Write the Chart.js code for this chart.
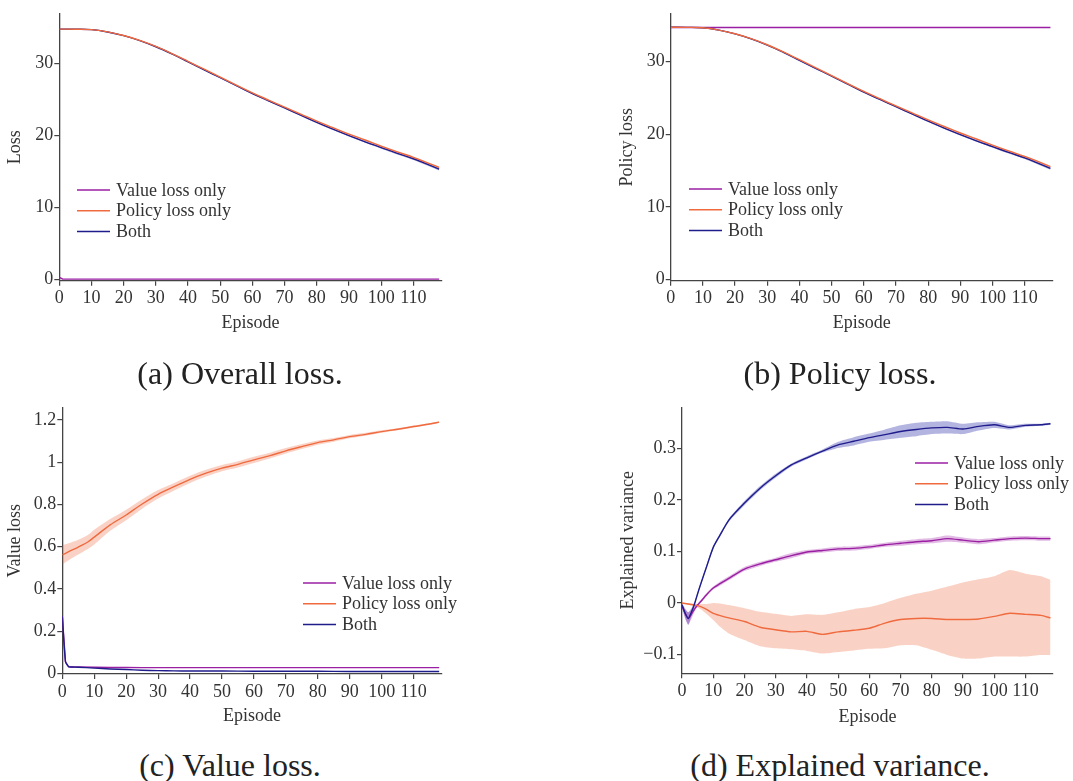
<!DOCTYPE html>
<html>
<head>
<meta charset="utf-8">
<script src="https://cdn.jsdelivr.net/npm/chart.js@4.4.1/dist/chart.umd.min.js"></script>
<style>
  body { margin: 0; background: #fff; width: 1073px; height: 781px; position: relative; overflow: hidden; font-family: "Liberation Serif", "Times New Roman", "DejaVu Serif", serif; }
  canvas { position: absolute; }
  .cap { position: absolute; font-size: 32px; color: #222; transform: translate(-50%, -50%); white-space: nowrap; }
</style>
</head>
<body>
<canvas id="lossChart"></canvas>
<canvas id="policyChart"></canvas>
<canvas id="valueChart"></canvas>
<canvas id="evChart"></canvas>
<div class="cap" style="left:240px;top:373px">(a) Overall loss.</div>
<div class="cap" style="left:840px;top:373px">(b) Policy loss.</div>
<div class="cap" style="left:230px;top:765px">(c) Value loss.</div>
<div class="cap" style="left:840px;top:765px">(d) Explained variance.</div>
<script>
const seriesNames = ["Value loss only", "Policy loss only", "Both"];
const xTicks = [0, 10, 20, 30, 40, 50, 60, 70, 80, 90, 100, 110];
const lossTicks = [0, 10, 20, 30];
const vlTicks = [0, 0.2, 0.4, 0.6, 0.8, 1, 1.2];
const evTicks = [-0.1, 0, 0.1, 0.2, 0.3];

// (a)/(b) loss curves, every 5 episodes
const stepEps = [0, 5, 10, 15, 20, 25, 30, 35, 40, 45, 50, 55, 60, 65, 70, 75, 80, 85, 90, 95, 100, 105, 110, 115, 118];
const lossBoth = [34.75, 34.74, 34.68, 34.35, 33.84, 33.15, 32.3, 31.3, 30.2, 29.1, 28.0, 26.9, 25.8, 24.8, 23.8, 22.8, 21.8, 20.85, 19.95, 19.1, 18.3, 17.5, 16.75, 15.85, 15.3];
const lossBothSd = [0.05, 0.05, 0.05, 0.05, 0.05, 0.05, 0.05, 0.06, 0.06, 0.07, 0.07, 0.08, 0.08, 0.09, 0.1, 0.1, 0.11, 0.12, 0.13, 0.14, 0.15, 0.16, 0.17, 0.18, 0.18];
const lossPolicy = [34.75, 34.74, 34.68, 34.36, 33.86, 33.18, 32.34, 31.36, 30.28, 29.18, 28.08, 26.98, 25.9, 24.9, 23.92, 22.95, 21.98, 21.07, 20.17, 19.35, 18.5, 17.7, 16.95, 16.08, 15.55];
const lossPolicySd = [0.03, 0.03, 0.03, 0.03, 0.03, 0.03, 0.03, 0.03, 0.04, 0.04, 0.04, 0.05, 0.05, 0.05, 0.05, 0.06, 0.06, 0.06, 0.07, 0.07, 0.07, 0.08, 0.08, 0.08, 0.08];
const valueOnlyPL = [34.72, 34.72, 34.71, 34.71, 34.71, 34.71, 34.71, 34.71, 34.71, 34.71, 34.71, 34.71, 34.71, 34.71, 34.71, 34.71, 34.71, 34.71, 34.71, 34.71, 34.71, 34.71, 34.71, 34.71, 34.71];

// (c) value loss
const valueEps = [0, 1, 2, 3, 5, 10, 15, 20, 25, 30, 35, 40, 50, 60, 70, 80, 90, 100, 110, 118];
const valueOnlyVL = [0.27, 0.055, 0.031, 0.03, 0.03, 0.029, 0.028, 0.028, 0.027, 0.027, 0.027, 0.027, 0.027, 0.027, 0.027, 0.027, 0.027, 0.027, 0.027, 0.027];
const bothVL = [0.27, 0.055, 0.031, 0.03, 0.029, 0.025, 0.021, 0.018, 0.015, 0.013, 0.012, 0.011, 0.011, 0.01, 0.01, 0.01, 0.009, 0.009, 0.009, 0.009];
const policyEps = [0, 2, 5, 8, 10, 15, 20, 25, 30, 35, 40, 45, 50, 55, 60, 65, 70, 75, 80, 85, 90, 95, 100, 105, 110, 115, 118];
const policyVL = [0.561, 0.576, 0.598, 0.622, 0.645, 0.703, 0.75, 0.802, 0.848, 0.884, 0.919, 0.948, 0.972, 0.99, 1.011, 1.031, 1.054, 1.074, 1.093, 1.106, 1.121, 1.132, 1.145, 1.156, 1.169, 1.181, 1.19];
const policyVLSd = [0.045, 0.04, 0.035, 0.033, 0.035, 0.028, 0.025, 0.022, 0.02, 0.018, 0.017, 0.016, 0.015, 0.015, 0.015, 0.014, 0.013, 0.012, 0.01, 0.009, 0.008, 0.007, 0.006, 0.005, 0.005, 0.004, 0.004];

// (d) explained variance
const evEps = [0, 1, 2, 3, 4, 5, 6, 8, 10, 12, 15, 20, 25, 30, 35, 40, 45, 50, 55, 60, 65, 70, 75, 80, 85, 90, 95, 100, 105, 110, 115, 118];
const evBoth = [-0.004, -0.02, -0.03, -0.018, -0.002, 0.018, 0.037, 0.073, 0.108, 0.13, 0.161, 0.194, 0.223, 0.247, 0.268, 0.282, 0.295, 0.307, 0.314, 0.321, 0.327, 0.333, 0.337, 0.34, 0.341, 0.338, 0.343, 0.346, 0.341, 0.345, 0.346, 0.348];
const evBothSd = [0.004, 0.008, 0.012, 0.008, 0.004, 0.003, 0.003, 0.003, 0.003, 0.003, 0.003, 0.004, 0.004, 0.004, 0.003, 0.003, 0.003, 0.006, 0.008, 0.008, 0.01, 0.012, 0.013, 0.012, 0.012, 0.01, 0.008, 0.006, 0.004, 0.003, 0.002, 0.002];
const evValue = [-0.005, -0.02, -0.03, -0.022, -0.012, -0.004, 0.003, 0.017, 0.029, 0.037, 0.048, 0.066, 0.076, 0.084, 0.092, 0.099, 0.102, 0.105, 0.106, 0.109, 0.113, 0.116, 0.119, 0.121, 0.125, 0.122, 0.119, 0.122, 0.125, 0.126, 0.125, 0.125];
const evValueSd = [0.004, 0.01, 0.012, 0.009, 0.005, 0.003, 0.003, 0.003, 0.003, 0.004, 0.004, 0.004, 0.004, 0.004, 0.005, 0.004, 0.004, 0.004, 0.004, 0.004, 0.004, 0.005, 0.005, 0.005, 0.006, 0.005, 0.005, 0.004, 0.004, 0.004, 0.004, 0.004];
const evPolicy = [0, -0.001, -0.002, -0.003, -0.004, -0.005, -0.007, -0.013, -0.02, -0.024, -0.029, -0.036, -0.047, -0.052, -0.056, -0.055, -0.061, -0.056, -0.053, -0.049, -0.039, -0.032, -0.03, -0.03, -0.032, -0.032, -0.031, -0.026, -0.02, -0.022, -0.024, -0.029];
const evPolicyLow = [0, -0.002, -0.004, -0.005, -0.007, -0.009, -0.012, -0.022, -0.033, -0.045, -0.059, -0.072, -0.084, -0.088, -0.09, -0.093, -0.098, -0.095, -0.092, -0.089, -0.088, -0.082, -0.082, -0.091, -0.101, -0.108, -0.108, -0.104, -0.104, -0.104, -0.101, -0.101];
const evPolicyHigh = [0, 0, 0, -0.001, -0.002, -0.002, -0.002, -0.002, 0, -0.001, -0.004, -0.01, -0.017, -0.021, -0.025, -0.022, -0.023, -0.018, -0.012, -0.008, 0, 0.01, 0.018, 0.024, 0.032, 0.04, 0.046, 0.052, 0.064, 0.057, 0.052, 0.045];

const purple = "#9b1fa3", orange = "#ef6a3f", navy = "#1f1d8c";
const purpleBand = "rgba(155,31,163,0.3)", orangeBand = "rgba(239,106,63,0.3)", navyBand = "rgba(40,40,170,0.35)";
const fontStack = '"Liberation Serif", "Times New Roman", "DejaVu Serif", serif';
const fontSize = 18;

Chart.defaults.font.family = fontStack;
Chart.defaults.font.size = fontSize;
Chart.defaults.color = "#333";

function pts(xs, ys) {
  return xs.map((x, i) => ({ x: x, y: ys[i] }));
}
function plus(ys, sd, sign) {
  return ys.map((y, i) => y + sign * sd[i]);
}
function band(xs, lo, hi, color, tension) {
  return [
    { data: pts(xs, hi), borderWidth: 0, pointRadius: 0, backgroundColor: color, fill: "+1", order: 10, tension: tension },
    { data: pts(xs, lo), borderWidth: 0, pointRadius: 0, fill: false, order: 10, tension: tension },
  ];
}
function line(xs, ys, color, order, tension) {
  return { data: pts(xs, ys), borderColor: color, borderWidth: 1.4, pointRadius: 0, fill: false, order: order, tension: tension };
}

// simple legend drawn inside the plot
const cornerLegend = {
  id: "cornerLegend",
  afterDraw(chart, args, opts) {
    const ctx = chart.ctx;
    ctx.save();
    ctx.font = fontSize + "px " + fontStack;
    ctx.textBaseline = "middle";
    [purple, orange, navy].forEach((c, i) => {
      const y = opts.y + i * 20.7;
      ctx.strokeStyle = c;
      ctx.lineWidth = 1.5;
      ctx.beginPath();
      ctx.moveTo(opts.x, y);
      ctx.lineTo(opts.x + 33, y);
      ctx.stroke();
      ctx.fillStyle = "#333";
      ctx.fillText(seriesNames[i], opts.x + 39, y + 1);
    });
    ctx.restore();
  },
};

function fmt(v) {
  return v < 0 ? "\u2212" + Math.abs(v) : String(v);
}

// box = canvas [left, top, w, h], area = chart area [L, T, R, B], titleAt = [y title centre x, x title centre y]
function makePanel(id, box, area, titleAt, yMin, yMax, yTicks, yLabel, datasets, legendAt) {
  const cv = document.getElementById(id);
  cv.style.left = box[0] + "px";
  cv.style.top = box[1] + "px";
  cv.width = box[2];
  cv.height = box[3];
  const half = fontSize * 0.6;
  const axisGrid = { display: true, drawOnChartArea: false, drawTicks: true, tickLength: 5, color: "#444", lineWidth: 1.2 };
  const axisBorder = { display: true, color: "#444", width: 1.3 };
  new Chart(cv, {
    type: "line",
    data: { datasets: datasets },
    options: {
      responsive: false,
      animation: false,
      devicePixelRatio: 1,
      layout: {
        padding: {
          left: titleAt[0] - half - box[0],
          top: area[1] - box[1],
          right: box[0] + box[2] - area[2],
          bottom: box[1] + box[3] - (titleAt[1] + half),
        },
      },
      scales: {
        x: {
          type: "linear", min: 0, max: 118.8,
          afterFit(s) { s.height = titleAt[1] + half - area[3]; },
          afterBuildTicks(s) { s.ticks = xTicks.map((v) => ({ value: v })); },
          ticks: { padding: 2, maxRotation: 0, autoSkip: false, color: "#333" },
          grid: axisGrid,
          border: axisBorder,
          title: { display: true, text: "Episode", padding: 0, color: "#333" },
        },
        y: {
          type: "linear", min: yMin, max: yMax,
          afterFit(s) { s.width = area[0] - (titleAt[0] - half); },
          afterBuildTicks(s) { s.ticks = yTicks.map((v) => ({ value: v })); },
          ticks: { padding: 1, color: "#333", callback: fmt },
          grid: axisGrid,
          border: axisBorder,
          title: { display: true, text: yLabel, padding: 0, color: "#333" },
        },
      },
      plugins: {
        legend: { display: false },
        tooltip: { enabled: false },
        cornerLegend: { x: legendAt[0] - box[0], y: legendAt[1] - box[1] },
      },
    },
    plugins: [cornerLegend],
  });
}

// (a) overall loss
makePanel("lossChart", [0, 0, 536, 345], [59.3, 14, 441.7, 280.7], [15.7, 323], -0.19, 36.85, lossTicks, "Loss", [
  ...band(stepEps, plus(lossBoth, lossBothSd, -1), plus(lossBoth, lossBothSd, 1), navyBand, 0.4),
  ...band(stepEps, plus(lossPolicy, lossPolicySd, -1), plus(lossPolicy, lossPolicySd, 1), orangeBand, 0.4),
  line(valueEps, valueOnlyVL, purple, 3, 0),
  line(stepEps, lossPolicy, orange, 1, 0.4),
  line(stepEps, lossBoth, navy, 2, 0.4),
], [77, 190]);

// (b) policy loss
makePanel("policyChart", [536, 0, 537, 345], [670.7, 14, 1053, 280.7], [627.3, 323], -0.19, 36.58, lossTicks, "Policy loss", [
  ...band(stepEps, plus(lossBoth, lossBothSd, -1), plus(lossBoth, lossBothSd, 1), navyBand, 0.4),
  ...band(stepEps, plus(lossPolicy, lossPolicySd, -1), plus(lossPolicy, lossPolicySd, 1), orangeBand, 0.4),
  line(stepEps, valueOnlyPL, purple, 3, 0),
  line(stepEps, lossPolicy, orange, 1, 0.4),
  line(stepEps, lossBoth, navy, 2, 0.4),
], [689, 189]);

// (c) value loss
makePanel("valueChart", [0, 390, 536, 345], [62.3, 407.3, 441.7, 674], [15.7, 716.7], -0.003, 1.26, vlTicks, "Value loss", [
  ...band(policyEps, plus(policyVL, policyVLSd, -1), plus(policyVL, policyVLSd, 1), orangeBand, 0.3),
  line(valueEps, valueOnlyVL, purple, 3, 0),
  line(policyEps, policyVL, orange, 2, 0.3),
  line(valueEps, bothVL, navy, 1, 0.2),
], [303, 583]);

// (d) explained variance
makePanel("evChart", [536, 390, 537, 345], [682, 407.3, 1053, 673.3], [628, 717.3], -0.1365, 0.38, evTicks, "Explained variance", [
  ...band(evEps, evPolicyLow, evPolicyHigh, orangeBand, 0.2),
  ...band(evEps, plus(evValue, evValueSd, -1), plus(evValue, evValueSd, 1), purpleBand, 0.2),
  ...band(evEps, plus(evBoth, evBothSd, -1), plus(evBoth, evBothSd, 1), navyBand, 0.2),
  line(evEps, evValue, purple, 3, 0.2),
  line(evEps, evPolicy, orange, 2, 0.2),
  line(evEps, evBoth, navy, 1, 0.2),
], [915, 463]);
</script>
</body>
</html>
